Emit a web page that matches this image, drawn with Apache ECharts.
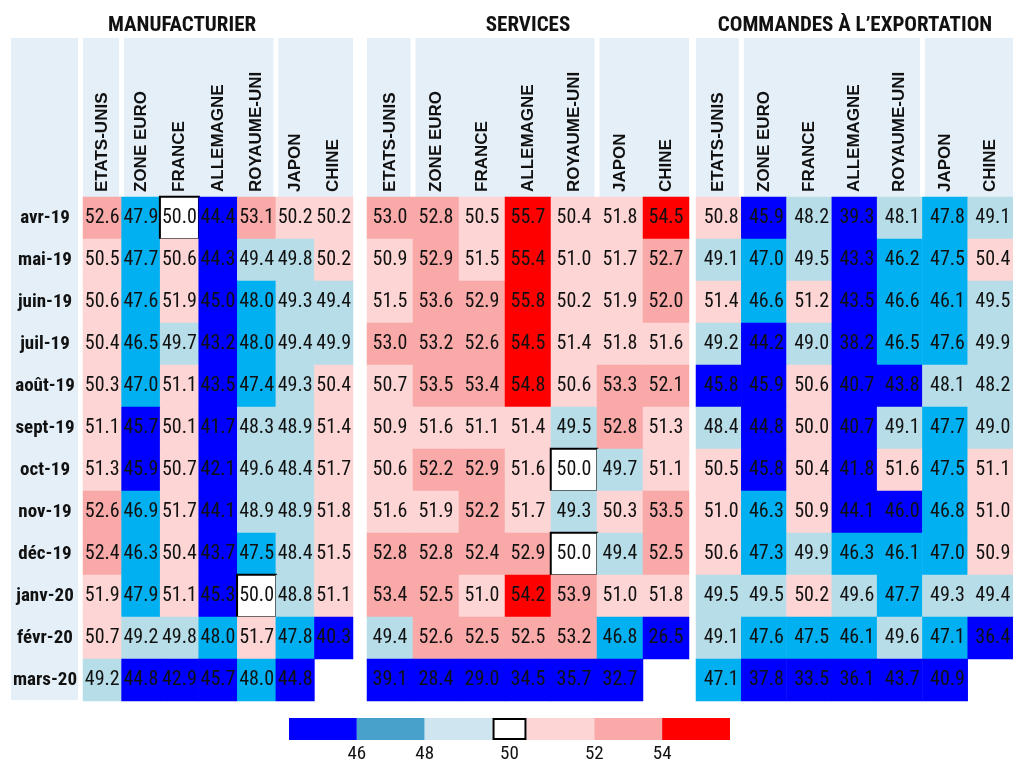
<!DOCTYPE html>
<html>
<head>
<meta charset="utf-8">
<script src="https://cdn.jsdelivr.net/npm/echarts@6/dist/echarts.min.js"></script>
<style>
  html, body { margin: 0; padding: 0; background: #fff; }
  #chart { width: 1013px; height: 764px; }
</style>
</head>
<body>
<div id="chart"></div>
<script>
const MONTHS = ['avr-19', 'mai-19', 'juin-19', 'juil-19', 'août-19', 'sept-19', 'oct-19', 'nov-19', 'déc-19', 'janv-20', 'févr-20', 'mars-20']
const COUNTRIES = ['ETATS-UNIS', 'ZONE EURO', 'FRANCE', 'ALLEMAGNE', 'ROYAUME-UNI', 'JAPON', 'CHINE']

// une ligne par mois, une colonne par pays
const MANUFACTURIER = [
  [52.6, 47.9, 50.0, 44.4, 53.1, 50.2, 50.2],
  [50.5, 47.7, 50.6, 44.3, 49.4, 49.8, 50.2],
  [50.6, 47.6, 51.9, 45.0, 48.0, 49.3, 49.4],
  [50.4, 46.5, 49.7, 43.2, 48.0, 49.4, 49.9],
  [50.3, 47.0, 51.1, 43.5, 47.4, 49.3, 50.4],
  [51.1, 45.7, 50.1, 41.7, 48.3, 48.9, 51.4],
  [51.3, 45.9, 50.7, 42.1, 49.6, 48.4, 51.7],
  [52.6, 46.9, 51.7, 44.1, 48.9, 48.9, 51.8],
  [52.4, 46.3, 50.4, 43.7, 47.5, 48.4, 51.5],
  [51.9, 47.9, 51.1, 45.3, 50.0, 48.8, 51.1],
  [50.7, 49.2, 49.8, 48.0, 51.7, 47.8, 40.3],
  [49.2, 44.8, 42.9, 45.7, 48.0, 44.8, null]
]
const SERVICES = [
  [53.0, 52.8, 50.5, 55.7, 50.4, 51.8, 54.5],
  [50.9, 52.9, 51.5, 55.4, 51.0, 51.7, 52.7],
  [51.5, 53.6, 52.9, 55.8, 50.2, 51.9, 52.0],
  [53.0, 53.2, 52.6, 54.5, 51.4, 51.8, 51.6],
  [50.7, 53.5, 53.4, 54.8, 50.6, 53.3, 52.1],
  [50.9, 51.6, 51.1, 51.4, 49.5, 52.8, 51.3],
  [50.6, 52.2, 52.9, 51.6, 50.0, 49.7, 51.1],
  [51.6, 51.9, 52.2, 51.7, 49.3, 50.3, 53.5],
  [52.8, 52.8, 52.4, 52.9, 50.0, 49.4, 52.5],
  [53.4, 52.5, 51.0, 54.2, 53.9, 51.0, 51.8],
  [49.4, 52.6, 52.5, 52.5, 53.2, 46.8, 26.5],
  [39.1, 28.4, 29.0, 34.5, 35.7, 32.7, null]
]
const EXPORT = [
  [50.8, 45.9, 48.2, 39.3, 48.1, 47.8, 49.1],
  [49.1, 47.0, 49.5, 43.3, 46.2, 47.5, 50.4],
  [51.4, 46.6, 51.2, 43.5, 46.6, 46.1, 49.5],
  [49.2, 44.2, 49.0, 38.2, 46.5, 47.6, 49.9],
  [45.8, 45.9, 50.6, 40.7, 43.8, 48.1, 48.2],
  [48.4, 44.8, 50.0, 40.7, 49.1, 47.7, 49.0],
  [50.5, 45.8, 50.4, 41.8, 51.6, 47.5, 51.1],
  [51.0, 46.3, 50.9, 44.1, 46.0, 46.8, 51.0],
  [50.6, 47.3, 49.9, 46.3, 46.1, 47.0, 50.9],
  [49.5, 49.5, 50.2, 49.6, 47.7, 49.3, 49.4],
  [49.1, 47.6, 47.5, 46.1, 49.6, 47.1, 36.4],
  [47.1, 37.8, 33.5, 36.1, 43.7, 40.9, null]
]

const LEGEND_TICKS = ['46', '48', '50', '52', '54']

const NARROW = '"Roboto Condensed", "Liberation Sans Narrow", sans-serif'
const WIDE = '"Liberation Sans", Arial, sans-serif'
const TEXT = '#111'
const BAND = '#E4EFF7'

const COLORS = {
  blue: '#0000FF',
  cyan: '#00B0F0',
  lightBlue: '#B7DDE8',
  lightPink: '#FCD5D4',
  pink: '#F9A9A8',
  red: '#FF0000'
}

const PANELS = [
  { title: 'MANUFACTURIER', data: MANUFACTURIER, left: 83, width: 270, titleX: 182, neutral: true, labelPos: 'inside' },
  { title: 'SERVICES', data: SERVICES, left: 367, width: 322, titleX: 528, neutral: true, labelPos: 'inside' },
  { title: 'COMMANDES À L’EXPORTATION', data: EXPORT, left: 696, width: 317, titleX: 855, neutral: false, labelPos: 'insideRight' }
]
const GRID_TOP = 197
const GRID_H = 504

function cellStyle(v, neutral) {
  if (neutral && v === 50) return { color: '#fff', borderColor: '#000', borderWidth: 2 }
  let color
  if (v <= 46) color = COLORS.blue
  else if (v <= 48) color = COLORS.cyan
  else if (v < 50) color = COLORS.lightBlue
  else if (v < 52) color = COLORS.lightPink
  else if (v < 54) color = COLORS.pink
  else color = COLORS.red
  return { color }
}

function buildOption() {
  const grids = []
  const xAxes = []
  const yAxes = []
  const series = []
  const graphics = []

  // colonne des mois
  graphics.push({ type: 'rect', z: -10, shape: { x: 11, y: 38, width: 67, height: 662 }, style: { fill: BAND } })

  PANELS.forEach((p, i) => {
    grids.push({ left: p.left, top: GRID_TOP, width: p.width, height: GRID_H })
    xAxes.push({
      type: 'category',
      gridIndex: i,
      position: 'top',
      data: COUNTRIES,
      axisLine: { show: false },
      axisTick: { show: false },
      axisLabel: { rotate: -90, interval: 0, margin: 5, color: TEXT, fontFamily: WIDE, fontWeight: 'bold', fontSize: 17 }
    })
    yAxes.push({
      type: 'category',
      gridIndex: i,
      inverse: true,
      data: MONTHS,
      axisLine: { show: false },
      axisTick: { show: false },
      axisLabel: i === 0
        ? { align: 'center', margin: 38, color: TEXT, fontFamily: NARROW, fontWeight: 'bold', fontSize: 19 }
        : { show: false }
    })

    const items = []
    p.data.forEach((row, r) => {
      row.forEach((v, c) => {
        if (v == null) return
        items.push({ value: [c, r, v], itemStyle: cellStyle(v, p.neutral) })
      })
    })
    series.push({
      type: 'heatmap',
      xAxisIndex: i,
      yAxisIndex: i,
      data: items,
      label: {
        show: true,
        position: p.labelPos,
        distance: 3,
        color: TEXT,
        fontFamily: NARROW,
        fontSize: 20,
        formatter: d => d.value[2].toFixed(1)
      },
      emphasis: { disabled: true }
    })

    // bandeaux des en-tetes : 1 | 4 | 2 colonnes
    const cw = p.width / COUNTRIES.length
    const cuts = [0, 1, 5, 7]
    for (let k = 0; k < 3; k++) {
      const x0 = p.left + cuts[k] * cw + (k > 0 ? 2.5 : 0)
      const x1 = p.left + cuts[k + 1] * cw - (k < 2 ? 2.5 : 0)
      graphics.push({ type: 'rect', z: -10, shape: { x: x0, y: 38, width: x1 - x0, height: GRID_TOP - 38 }, style: { fill: BAND } })
    }
    graphics.push({
      type: 'text', x: p.titleX, y: 26,
      style: { text: p.title, fill: TEXT, font: 'bold 21px ' + NARROW, textAlign: 'center', textVerticalAlign: 'middle' }
    })
  })

  // legende en bas
  const legendParts = [
    { w: 2, color: '#0000FF' },
    { w: 2, color: '#47A1CB' },
    { w: 2, color: '#CFE6F0' },
    { w: 1, color: '#FFFFFF', border: true },
    { w: 2, color: '#FCD5D4' },
    { w: 2, color: '#F9A9A8' },
    { w: 2, color: '#FF0000' }
  ]
  const tickPos = [2, 4, 6.5, 9, 11]
  grids.push({ left: 289, width: 441, top: 718, height: 31 })
  xAxes.push({
    type: 'value',
    gridIndex: 3,
    min: 0,
    max: 13,
    axisLine: { show: false },
    axisTick: { show: false },
    splitLine: { show: false },
    axisLabel: {
      customValues: tickPos,
      margin: 5,
      color: TEXT,
      fontFamily: NARROW,
      fontSize: 19,
      formatter: v => LEGEND_TICKS[tickPos.indexOf(v)] || ''
    }
  })
  yAxes.push({ type: 'category', gridIndex: 3, data: [''], show: false })
  legendParts.forEach(part => {
    series.push({
      type: 'bar',
      xAxisIndex: 3,
      yAxisIndex: 3,
      stack: 'legend',
      barWidth: '100%',
      data: [part.w],
      itemStyle: part.border
        ? { color: part.color, borderColor: '#000', borderWidth: 2 }
        : { color: part.color },
      emphasis: { disabled: true },
      z: part.border ? 3 : 2
    })
  })

  return {
    animation: false,
    grid: grids,
    xAxis: xAxes,
    yAxis: yAxes,
    series,
    graphic: graphics
  }
}

const chart = echarts.init(document.getElementById('chart'))
chart.setOption(buildOption())
</script>
</body>
</html>
